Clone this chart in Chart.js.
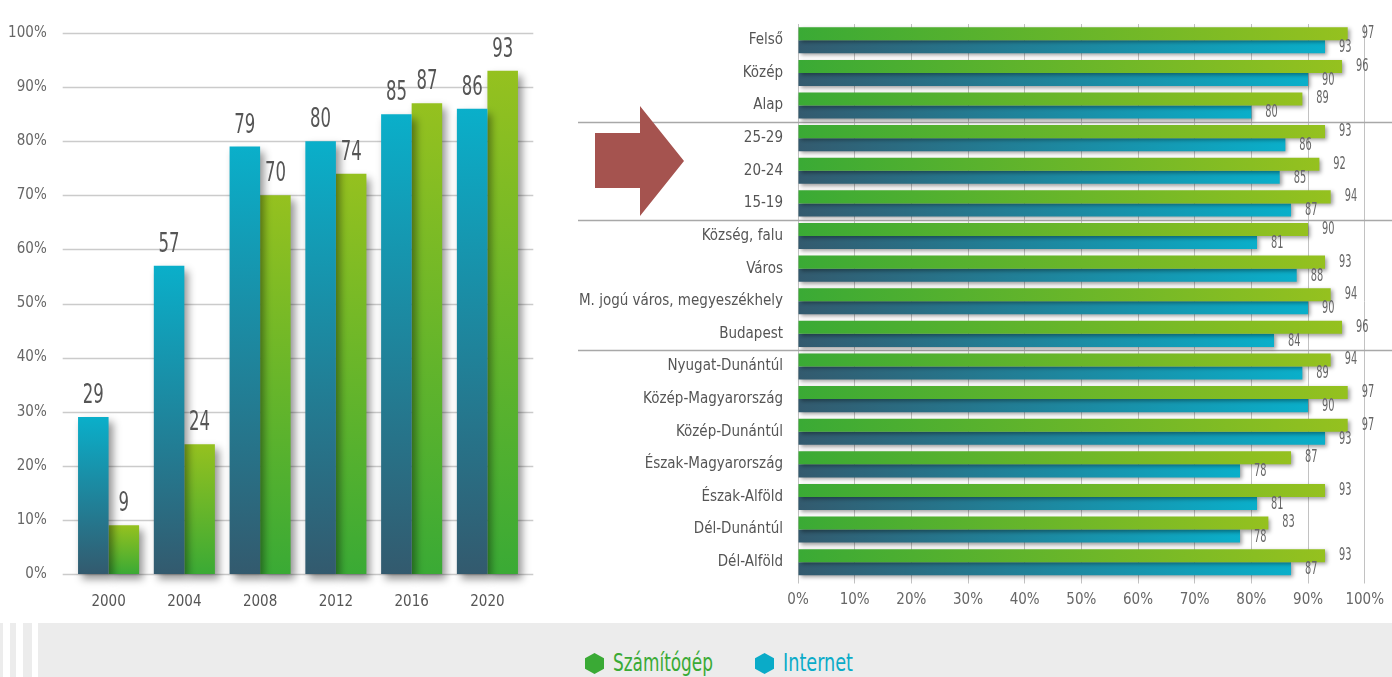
<!DOCTYPE html>
<html>
<head>
<meta charset="utf-8">
<script src="https://cdn.jsdelivr.net/npm/chart.js@4/dist/chart.umd.min.js"></script>
<style>
  html, body { margin:0; padding:0; background:#fff; width:1392px; height:677px; overflow:hidden; }
  body { position:relative; font-family:'DejaVu Sans Condensed','DejaVu Sans',sans-serif; }
  canvas { position:absolute; top:0; }
  #leftC { left:0; }
  #rightC { left:560px; }
  .band { position:absolute; top:623px; height:54px; background:#ececec; }
  .leg { position:absolute; top:648px; font-size:25px; line-height:30px; white-space:nowrap; transform-origin:0 50%; }
  .hex { position:absolute; top:653px; }
</style>
</head>
<body>
<canvas id="leftC" width="540" height="623"></canvas>
<canvas id="rightC" width="832" height="623"></canvas>

<div class="band" style="left:0;width:3.3px"></div>
<div class="band" style="left:10px;width:6px"></div>
<div class="band" style="left:22.7px;width:9px"></div>
<div class="band" style="left:37.7px;width:1354.3px"></div>

<svg class="hex" style="left:585px" width="19" height="21"><polygon points="9.5,0 19,5.25 19,15.75 9.5,21 0,15.75 0,5.25" fill="#3aaa35"/></svg>
<div class="leg" id="legC" data-w="100" style="left:612.7px;color:#3aaa35">Számítógép</div>
<svg class="hex" style="left:755px" width="19" height="21"><polygon points="9.5,0 19,5.25 19,15.75 9.5,21 0,15.75 0,5.25" fill="#0aabc8"/></svg>
<div class="leg" id="legI" data-w="70" style="left:783px;color:#0aabc8">Internet</div>

<script>
// ---------- DATA ----------
const years = ['2000', '2004', '2008', '2012', '2016', '2020'];
const internetByYear = [29, 57, 79, 80, 85, 86];
const computerByYear = [9, 24, 70, 74, 87, 93];

const groups = ['Felső', 'Közép', 'Alap', '25-29', '20-24', '15-19',
  'Község, falu', 'Város', 'M. jogú város, megyeszékhely', 'Budapest',
  'Nyugat-Dunántúl', 'Közép-Magyarország', 'Közép-Dunántúl',
  'Észak-Magyarország', 'Észak-Alföld', 'Dél-Dunántúl', 'Dél-Alföld'];
const computerByGroup = [97, 96, 89, 93, 92, 94, 90, 93, 94, 96, 94, 97, 97, 87, 93, 83, 93];
const internetByGroup = [93, 90, 80, 86, 85, 87, 81, 88, 90, 84, 89, 90, 93, 78, 81, 78, 87];
const groupBreaksAfter = [2, 5, 9];

const percentTicks = [0, 10, 20, 30, 40, 50, 60, 70, 80, 90, 100];

// ---------- STYLE ----------
const FONT = "'DejaVu Sans Condensed','DejaVu Sans',sans-serif";
const GREEN_A = '#3aaa35', GREEN_B = '#95c11f';
const BLUE_A = '#335a6e', BLUE_B = '#0aafca';

// legend width fit (condensed look)
document.querySelectorAll('.leg').forEach(el => {
  const w = el.getBoundingClientRect().width;
  el.style.transform = 'scaleX(' + (parseFloat(el.dataset.w) / w) + ')';
});

function condensedText(ctx, text, x, y, sx) {
  ctx.save();
  ctx.translate(x, y);
  ctx.scale(sx, 1);
  ctx.fillText(text, 0, 0);
  ctx.restore();
}

function vGrad(topCol, botCol) {
  return (c) => {
    const chart = c.chart;
    if (!chart.chartArea || c.type !== 'data') return topCol;
    const y = chart.scales.y;
    const top = y.getPixelForValue(c.raw), bot = y.getPixelForValue(0);
    if (!isFinite(top) || Math.abs(bot - top) < 1) return topCol;
    const g = chart.ctx.createLinearGradient(0, top, 0, bot);
    g.addColorStop(0, topCol); g.addColorStop(1, botCol);
    return g;
  };
}
function hGrad(leftCol, rightCol) {
  return (c) => {
    const chart = c.chart;
    if (!chart.chartArea || c.type !== 'data') return rightCol;
    const x = chart.scales.x;
    const l = x.getPixelForValue(0), r = x.getPixelForValue(c.raw);
    if (!isFinite(r) || Math.abs(r - l) < 1) return rightCol;
    const g = chart.ctx.createLinearGradient(l, 0, r, 0);
    g.addColorStop(0, leftCol); g.addColorStop(1, rightCol);
    return g;
  };
}

// ---------- LEFT CHART ----------
const leftDeco = {
  id: 'leftDeco',
  beforeDatasetsDraw(chart) {
    const ctx = chart.ctx, y = chart.scales.y, a = chart.chartArea;
    ctx.save();
    ctx.strokeStyle = '#cbcbcb';
    ctx.lineWidth = 1.5;
    y.ticks.forEach(t => {
      const py = Math.round(y.getPixelForValue(t.value)) + 0.5;
      ctx.beginPath(); ctx.moveTo(a.left - 8, py); ctx.lineTo(a.right + 8, py); ctx.stroke();
    });
    ctx.restore();
    ctx.save();
    ctx.shadowColor = 'rgba(0,0,0,0.42)';
    ctx.shadowBlur = 8;
    ctx.shadowOffsetX = 4;
    ctx.shadowOffsetY = 5;
  },
  afterDatasetsDraw(chart) {
    const ctx = chart.ctx;
    ctx.restore();
    ctx.save();
    ctx.font = '27px ' + FONT;
    ctx.fillStyle = '#555';
    ctx.textAlign = 'center';
    ctx.textBaseline = 'alphabetic';
    chart.data.datasets.forEach((ds, di) => {
      chart.getDatasetMeta(di).data.forEach((el, i) => {
        condensedText(ctx, String(ds.data[i]), el.x, el.y - 14, 0.68);
      });
    });
    ctx.restore();
  }
};

new Chart(document.getElementById('leftC'), {
  type: 'bar',
  data: {
    labels: years,
    datasets: [
      { label: 'Internet', data: internetByYear, backgroundColor: vGrad(BLUE_B, BLUE_A), clip: false },
      { label: 'Számítógép', data: computerByYear, backgroundColor: vGrad(GREEN_B, GREEN_A), clip: false }
    ]
  },
  options: {
    responsive: false,
    animation: false,
    layout: { padding: { top: 24, right: 14.7, left: 0, bottom: 0 } },
    datasets: { bar: { categoryPercentage: 0.806, barPercentage: 1, borderWidth: 0 } },
    plugins: { legend: { display: false }, tooltip: { enabled: false } },
    scales: {
      x: {
        grid: { display: false, drawTicks: false },
        border: { display: false },
        ticks: { padding: 19, color: '#555', font: { family: FONT, size: 15 } },
        afterFit(s) { s.height = 49; }
      },
      y: {
        min: 0, max: 100,
        grid: { display: false, drawTicks: false },
        border: { display: false },
        afterBuildTicks(s) { s.ticks = percentTicks.map(v => ({ value: v })); },
        ticks: { padding: 24, color: '#666', font: { family: FONT, size: 15 }, callback: v => v + '%' },
        afterFit(s) { s.width = 70.7; }
      }
    }
  },
  plugins: [leftDeco]
});

// ---------- RIGHT CHART ----------
const rightDeco = {
  id: 'rightDeco',
  beforeDatasetsDraw(chart) {
    const ctx = chart.ctx, y = chart.scales.y;
    ctx.save();
    ctx.strokeStyle = '#a8a8a8';
    ctx.lineWidth = 1.5;
    groupBreaksAfter.forEach(i => {
      const py = Math.round((y.getPixelForValue(i) + y.getPixelForValue(i + 1)) / 2) + 0.5;
      ctx.beginPath(); ctx.moveTo(18, py); ctx.lineTo(chart.width, py); ctx.stroke();
    });
    ctx.fillStyle = '#a5534f';
    ctx.beginPath();
    ctx.moveTo(35, 133); ctx.lineTo(80, 133); ctx.lineTo(80, 106); ctx.lineTo(124, 161);
    ctx.lineTo(80, 216); ctx.lineTo(80, 188); ctx.lineTo(35, 188); ctx.closePath();
    ctx.fill();
    ctx.restore();
    ctx.save();
    ctx.shadowColor = 'rgba(0,0,0,0.38)';
    ctx.shadowBlur = 4;
    ctx.shadowOffsetX = 2;
    ctx.shadowOffsetY = 2;
  },
  afterDatasetsDraw(chart) {
    const ctx = chart.ctx;
    ctx.restore();
    ctx.save();
    ctx.font = '17px ' + FONT;
    ctx.fillStyle = '#666';
    ctx.textAlign = 'left';
    ctx.textBaseline = 'middle';
    chart.data.datasets.forEach((ds, di) => {
      chart.getDatasetMeta(di).data.forEach((el, i) => {
        condensedText(ctx, String(ds.data[i]), el.x + 14, el.y + (di === 1 ? 1 : 0), 0.64);
      });
    });
    ctx.restore();
  }
};

new Chart(document.getElementById('rightC'), {
  type: 'bar',
  data: {
    labels: groups,
    datasets: [
      { label: 'Számítógép', data: computerByGroup, backgroundColor: hGrad(GREEN_A, GREEN_B), clip: false },
      { label: 'Internet', data: internetByGroup, backgroundColor: hGrad(BLUE_A, BLUE_B), clip: false }
    ]
  },
  options: {
    indexAxis: 'y',
    responsive: false,
    animation: false,
    layout: { padding: { top: 19.5, right: 19, left: 0, bottom: 0 } },
    datasets: { bar: { categoryPercentage: 0.8, barPercentage: 1, borderWidth: 0 } },
    plugins: { legend: { display: false }, tooltip: { enabled: false } },
    scales: {
      x: {
        min: 0, max: 100,
        grid: { color: '#c2c2c2', lineWidth: 1, drawTicks: true, tickLength: 5 },
        border: { display: false },
        afterBuildTicks(s) { s.ticks = percentTicks.map(v => ({ value: v })); },
        ticks: { padding: 8, color: '#666', font: { family: FONT, size: 15 }, callback: v => v + '%', maxRotation: 0 },
        afterFit(s) { s.height = 44.5; }
      },
      y: {
        grid: { display: false, drawTicks: false },
        border: { display: false },
        ticks: { padding: 15, color: '#555', font: { family: FONT, size: 15 }, autoSkip: false },
        afterFit(s) { s.width = 238; }
      }
    }
  },
  plugins: [rightDeco]
});
</script>
</body>
</html>
